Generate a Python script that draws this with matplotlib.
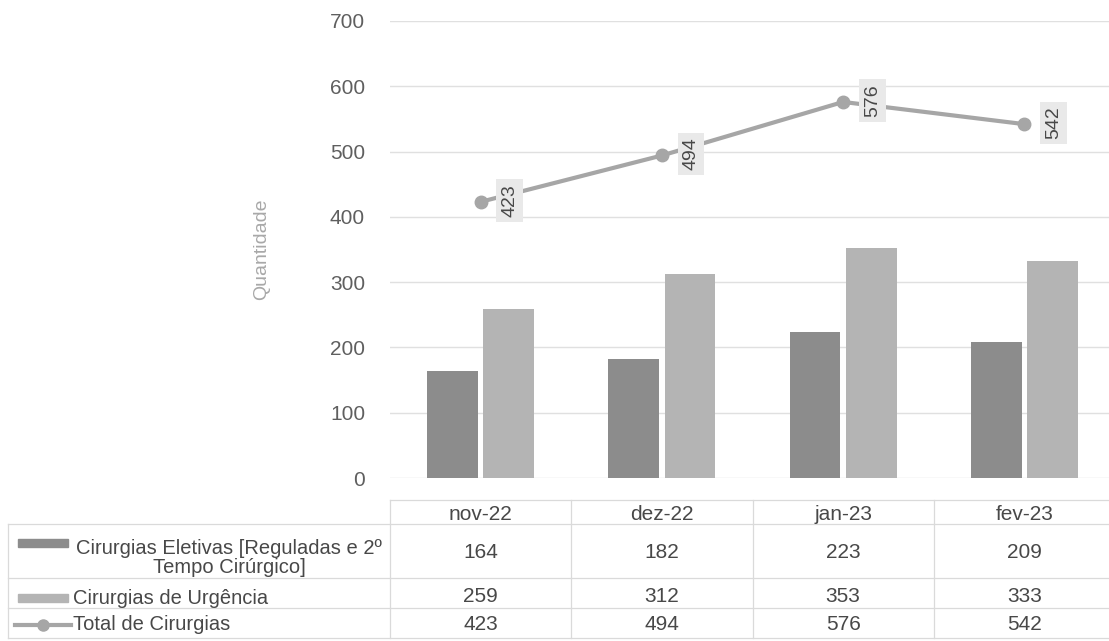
import matplotlib
matplotlib.use("Agg")
from matplotlib import pyplot as plt
from matplotlib import transforms
from matplotlib.lines import Line2D
from matplotlib.patches import Rectangle
import numpy as np

plt.rcParams["font.family"] = ["Liberation Sans", "DejaVu Sans"]

months = ["nov-22", "dez-22", "jan-23", "fev-23"]
eletivas = [164, 182, 223, 209]
urgencia = [259, 312, 353, 333]
total = [423, 494, 576, 542]

row_labels = ["Cirurgias Eletivas [Reguladas e 2º\nTempo Cirúrgico]",
              "Cirurgias de Urgência",
              "Total de Cirurgias"]

W, H = 1109, 641
C_DARK = "#8c8c8c"
C_LIGHT = "#b4b4b4"
C_LINE = "#a6a6a6"
C_TEXT = "#484848"
C_TICK = "#5f5f5f"
C_GRID = "#e0e0e0"

fig = plt.figure(figsize=(W / 100, H / 100), dpi=100)
fig.patch.set_facecolor("white")


def fy(y):
    """pixel row (from top) to figure fraction"""
    return 1 - y / H


# axes: x from 390 to 1115 px, y from 21 to 478 px
ax = fig.add_axes([390 / W, (H - 478) / H, 725 / W, 457 / H])
ax.set_xlim(-0.5, 3.5)
ax.set_ylim(0, 700)
xs = np.arange(len(months))

bar_w = 0.28
ax.bar(xs - 0.155, eletivas, width=bar_w, color=C_DARK, zorder=3)
ax.bar(xs + 0.155, urgencia, width=bar_w, color=C_LIGHT, zorder=3)
ax.plot(xs, total, "-o", color=C_LINE, lw=3, ms=9, zorder=4)

for x, v in zip(xs, total):
    ax.annotate(str(v), (x, v), xytext=(21, 1), textcoords="offset points",
                rotation=90, ha="center", va="center", fontsize=14,
                color=C_TEXT, zorder=5,
                bbox=dict(boxstyle="square,pad=0.25", fc="#e9e9e9",
                          ec="none"))

ax.set_yticks(range(0, 701, 100))
ax.set_xticks([])
ax.tick_params(axis="y", length=0, pad=18, labelsize=15, labelcolor=C_TICK)
ax.grid(axis="y", color=C_GRID, lw=1, zorder=0)
for s in ax.spines.values():
    s.set_visible(False)
ax.set_ylabel("Quantidade", fontsize=14, color="#a8a8a8")
ax.yaxis.set_label_coords(-0.165, 0.5)

# data table under the chart
tr = transforms.blended_transform_factory(ax.transData, fig.transFigure)

line_kw = dict(color="#dadada", lw=0.9, transform=fig.transFigure)
fig.add_artist(Line2D([390 / W, 1], [fy(500)] * 2, **line_kw))
for y in [524, 578, 608, 638]:
    fig.add_artist(Line2D([8 / W, 1], [fy(y)] * 2, **line_kw))
fig.add_artist(Line2D([8 / W] * 2, [fy(524), fy(638)], **line_kw))
for i in range(len(months)):
    xb = 390 + i * 181.25
    fig.add_artist(Line2D([xb / W] * 2, [fy(500), fy(638)], **line_kw))

for x, m in zip(xs, months):
    fig.text(x, fy(514), m, transform=tr, ha="center", va="center",
             fontsize=15, color=C_TEXT)
row_y = [553, 596, 624]
for vals, y in zip([eletivas, urgencia, total], row_y):
    for x, v in zip(xs, vals):
        fig.text(x, fy(y), str(v), transform=tr, ha="center", va="center",
                 fontsize=15, color=C_TEXT)

# row labels with legend keys
fig.text(229 / W, fy(558), row_labels[0], ha="center", va="center",
         multialignment="center", fontsize=14.5, color=C_TEXT,
         linespacing=1.0)
fig.text(73 / W, fy(598), row_labels[1], ha="left", va="center",
         fontsize=14.5, color=C_TEXT)
fig.text(73 / W, fy(624), row_labels[2], ha="left", va="center",
         fontsize=14.5, color=C_TEXT)

fig.add_artist(Rectangle((18 / W, fy(547)), 50 / W, 8 / H,
                         transform=fig.transFigure, color=C_DARK))
fig.add_artist(Rectangle((18 / W, fy(602)), 50 / W, 8 / H,
                         transform=fig.transFigure, color=C_LIGHT))
fig.add_artist(Line2D([15 / W, 71 / W], [fy(625)] * 2, color=C_LINE, lw=3,
                      transform=fig.transFigure))
fig.add_artist(Line2D([43 / W], [fy(625)], marker="o", ms=8, color=C_LINE,
                      transform=fig.transFigure))

fig.savefig("out.png", dpi=100, facecolor="white")
